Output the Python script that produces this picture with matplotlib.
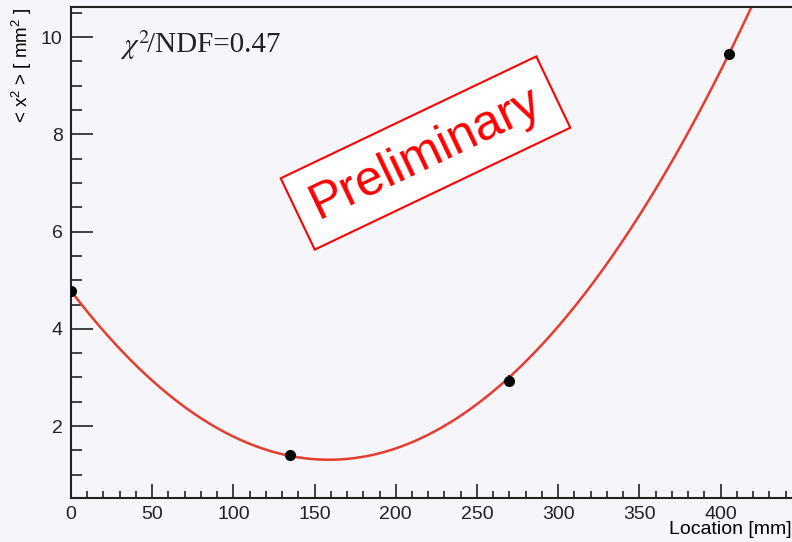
import numpy as np
import matplotlib
matplotlib.use("Agg")
import matplotlib.pyplot as plt
from matplotlib.ticker import MultipleLocator

# measured points
location = [0, 135, 270, 405]
x2_mean = [4.77, 1.40, 2.92, 9.65]
x2_err = [0.06, 0.05, 0.12, 0.06]

chi2_label = r"$\chi^{2}$/NDF=0.47"
stamp = "Preliminary"

BG = "#f5f5fa"
FIT_RED = "#e63c2e"

plt.rcParams["font.family"] = ["Liberation Sans", "DejaVu Sans"]
plt.rcParams["mathtext.fontset"] = "custom"
plt.rcParams["mathtext.rm"] = "Liberation Sans"
plt.rcParams["mathtext.it"] = "Liberation Sans:italic"

fig = plt.figure(figsize=(7.92, 5.42), dpi=100, facecolor=BG)
ax = fig.add_axes([0.0896, 0.0812, 0.9104, 0.9059], facecolor=BG)

# quadratic fit, as in the original analysis
coef = np.polyfit(location, x2_mean, 2, w=1.0 / np.array(x2_err))
xs = np.linspace(0, 444, 400)
ax.plot(xs, np.polyval(coef, xs), color=FIT_RED, lw=1.8, zorder=2)

ax.errorbar(location, x2_mean, yerr=x2_err, fmt="o", color="black",
            ms=7, elinewidth=1.2, capsize=0, zorder=3)

ax.set_xlim(0, 444)
ax.set_ylim(0.52, 10.62)
ax.xaxis.set_major_locator(MultipleLocator(50))
ax.xaxis.set_minor_locator(MultipleLocator(10))
ax.yaxis.set_major_locator(MultipleLocator(2))
ax.yaxis.set_minor_locator(MultipleLocator(0.5))

ax.tick_params(which="both", direction="in", top=False, right=False,
               width=1.2, colors="#222222", labelsize=14)
ax.tick_params(axis="x", which="major", length=10, pad=6)
ax.tick_params(axis="x", which="minor", length=5)
ax.tick_params(axis="y", which="major", length=16, pad=6)
ax.tick_params(axis="y", which="minor", length=8)

for side in ("left", "bottom", "top"):
    ax.spines[side].set_linewidth(1.5)
    ax.spines[side].set_color("#222222")
ax.spines["right"].set_visible(False)

ax.set_xlabel("Location [mm]", loc="right", fontsize=14, labelpad=-1.5)
ax.set_ylabel(r"< x$^{2}$ > [ mm$^{2}$ ]", loc="top", fontsize=13.5, labelpad=5)

fig.text(120 / 792, 1 - 45 / 542, r"$\chi^{2}$", fontsize=21,
         family="DejaVu Serif", math_fontfamily="stix", va="center",
         color="#222222")
fig.text(147 / 792, 1 - 45 / 542, "/NDF=0.47", fontsize=21,
         family="Liberation Serif", va="center", color="#222222")

fig.text(425.5 / 792, 1 - 153 / 542, stamp, fontsize=36, color="red",
         rotation=25.5, ha="center", va="center", rotation_mode="anchor",
         bbox=dict(boxstyle="square,pad=0.33", fc="white", ec="red", lw=1.5))

fig.savefig("out.png", dpi=100, facecolor=BG)
